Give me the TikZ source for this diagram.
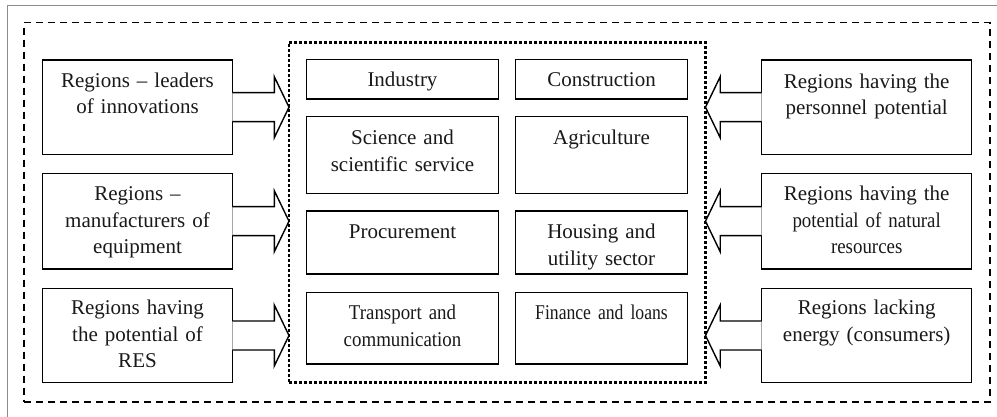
\documentclass[tikz,border=0pt]{standalone}
\usepackage{fontspec}
\setmainfont{Liberation Serif}
\newfontfamily\condA[FakeStretch=0.9]{Liberation Serif}
\newfontfamily\condB[FakeStretch=0.84]{Liberation Serif}
\usetikzlibrary{calc}
\tikzset{
  boxn/.style={draw, line width=1.4pt, inner sep=0pt, outer sep=0pt},
  lbl/.style={inner sep=0pt, outer sep=0pt, align=center, anchor=base,
    font=\fontsize{21}{26.8}\selectfont, text=black!90},
  arr/.style={draw, fill=white, line width=1.4pt, line join=miter},
  dashframe/.style={draw, dash pattern=on 7pt off 5pt, line width=1.6pt, inner sep=0pt, outer sep=0pt},
  dotframe/.style={draw, dash pattern=on 2.6pt off 2.4pt, line width=2.6pt, inner sep=0pt, outer sep=0pt},
  pageframe/.style={draw=black!45, line width=1.3pt}
}
\begin{document}
\begin{tikzpicture}[x=1pt,y=-1pt]
\useasboundingbox (0,0) rectangle (997,417);
% page frame
\coordinate (pf1) at (7.3,417);
\coordinate (pf2) at (7.3,5.7);
\coordinate (pf3) at (997,5.7);
\draw[pageframe] (pf1) -- (pf2) -- (pf3);
% frames
\node[dashframe, minimum width=966pt, minimum height=379pt] (D) at (507,212.2) {};
\node[dotframe, minimum width=416.5pt, minimum height=340pt] (C) at (497.25,212.3) {};
% left boxes
\node[boxn, minimum width=189.6pt, minimum height=94.3pt] (L1) at (137.5,107.2) {};
\node[boxn, minimum width=189.6pt, minimum height=95.7pt] (L2) at (137.5,221.2) {};
\node[boxn, minimum width=189.6pt, minimum height=94.4pt] (L3) at (137.5,335.5) {};
% right boxes
\node[boxn, minimum width=210pt, minimum height=94.3pt] (R1) at (866.7,107.2) {};
\node[boxn, minimum width=210pt, minimum height=95.7pt] (R2) at (866.7,221.2) {};
\node[boxn, minimum width=210pt, minimum height=94.4pt] (R3) at (866.7,335.5) {};
% centre boxes
\node[boxn, minimum width=191.6pt, minimum height=39.7pt] (A1) at (402.5,79.2) {};
\node[boxn, minimum width=191.6pt, minimum height=76.6pt] (A2) at (402.5,155) {};
\node[boxn, minimum width=191.6pt, minimum height=63pt] (A3) at (402.5,242.5) {};
\node[boxn, minimum width=191.6pt, minimum height=71.3pt] (A4) at (402.5,328.3) {};
\node[boxn, minimum width=171.6pt, minimum height=39.7pt] (B1) at (601.5,79.2) {};
\node[boxn, minimum width=171.6pt, minimum height=76.6pt] (B2) at (601.5,155) {};
\node[boxn, minimum width=171.6pt, minimum height=63pt] (B3) at (601.5,242.5) {};
\node[boxn, minimum width=171.6pt, minimum height=71.3pt] (B4) at (601.5,328.3) {};
% labels
\node[lbl, text width=189pt] (tL1) at ($(L1.north)+(0,27)$) {Regions – leaders\\of innovations};
\node[lbl, text width=189pt] (tL2) at ($(L2.north)+(0,27)$) {Regions –\\manufacturers of\\equipment};
\node[lbl, text width=189pt] (tL3) at ($(L3.north)+(0,26)$) {Regions having\\the potential of\\RES};
\node[lbl, text width=209pt] (tR1) at ($(R1.north)+(0,28)$) {Regions having the\\personnel potential};
\node[lbl, text width=209pt] (tR2) at ($(R2.north)+(0,27)$) {Regions having the\\{\condA potential of natural}\\{\condA resources}};
\node[lbl, text width=209pt] (tR3) at ($(R3.north)+(0,26)$) {Regions lacking\\energy (consumers)};
\node[lbl, text width=191pt] (tA1) at ($(A1.north)+(0,27.4)$) {Industry};
\node[lbl, text width=191pt] (tA2) at ($(A2.north)+(0,27.6)$) {Science and\\scientific service};
\node[lbl, text width=191pt] (tA3) at ($(A3.north)+(0,28)$) {Procurement};
\node[lbl, text width=191pt] (tA4) at ($(A4.north)+(0,27.3)$) {{\condA Transport and}\\{\condA communication}};
\node[lbl, text width=171pt] (tB1) at ($(B1.north)+(0,27.4)$) {Construction};
\node[lbl, text width=171pt] (tB2) at ($(B2.north)+(0,27.6)$) {Agriculture};
\node[lbl, text width=171pt] (tB3) at ($(B3.north)+(0,28)$) {Housing and\\utility sector};
\node[lbl, text width=171pt] (tB4) at ($(B4.north)+(0,27.3)$) {{\condB Finance and loans}};
% block arrows
\foreach \i in {1,2,3}{
  \coordinate (la\i) at (L\i.east);
  \coordinate (lt\i) at (C.west |- L\i.east);
  \draw[arr] ($(la\i)+(0,-14.5)$) -- ($(lt\i)+(-14.7,-14.5)$) -- ($(lt\i)+(-14.7,-30.5)$)
    -- (lt\i) -- ($(lt\i)+(-14.7,30.5)$) -- ($(lt\i)+(-14.7,14.5)$) -- ($(la\i)+(0,14.5)$);
  \coordinate (ra\i) at (R\i.west);
  \coordinate (rt\i) at (C.east |- R\i.west);
  \draw[arr] ($(ra\i)+(0,-14.5)$) -- ($(rt\i)+(14.7,-14.5)$) -- ($(rt\i)+(14.7,-30.5)$)
    -- (rt\i) -- ($(rt\i)+(14.7,30.5)$) -- ($(rt\i)+(14.7,14.5)$) -- ($(ra\i)+(0,14.5)$);
}
\end{tikzpicture}
\end{document}
